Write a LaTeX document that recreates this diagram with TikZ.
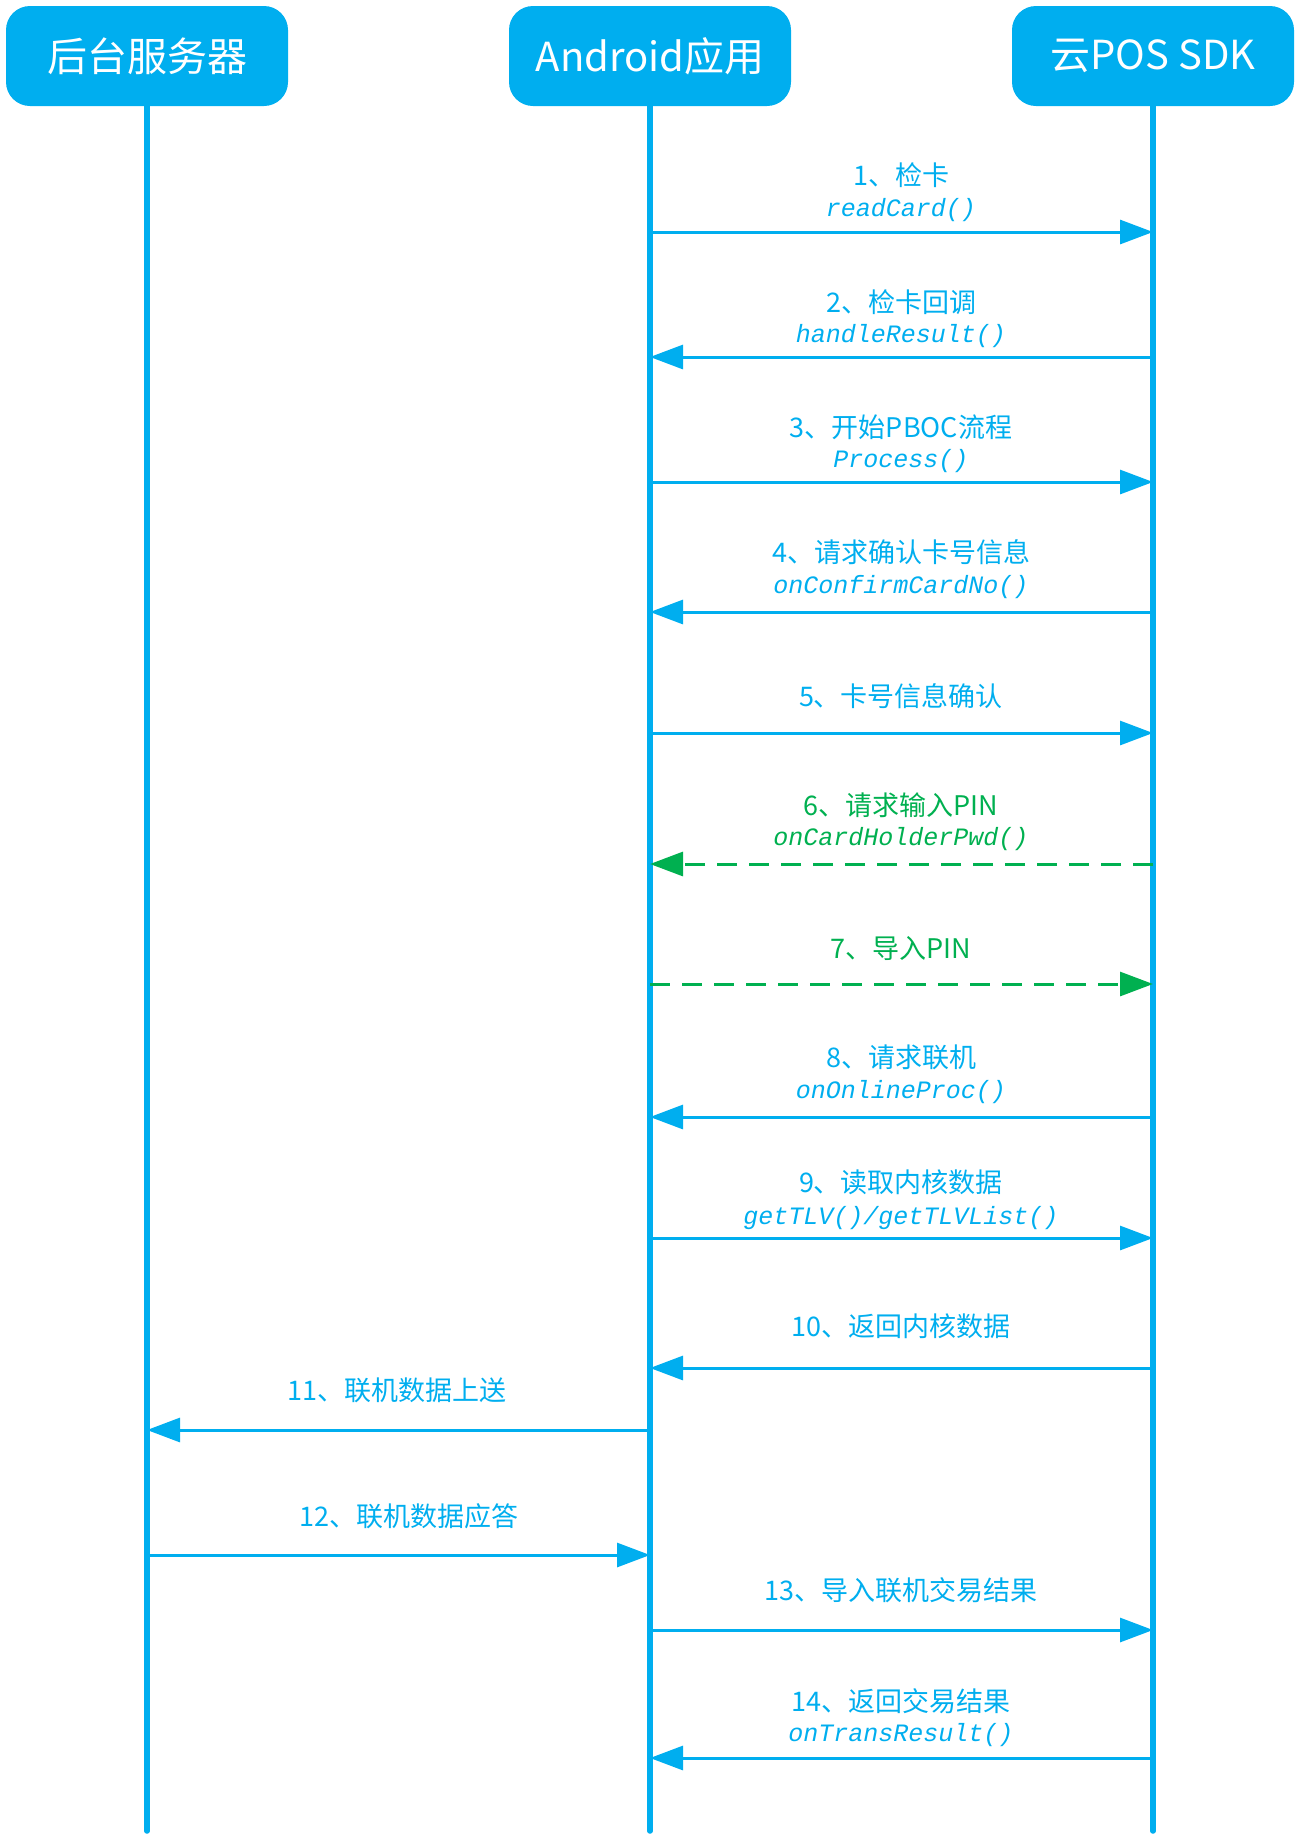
\documentclass[tikz,border=0pt]{standalone}
\usepackage{fontspec}
\setmainfont{Noto Sans CJK SC}
\newfontfamily\mth{Liberation Mono}
\usetikzlibrary{arrows.meta}
\definecolor{cy}{RGB}{0,174,239}
\definecolor{gr}{RGB}{0,176,80}
\begin{document}
\begin{tikzpicture}[x=0.5pt,y=-0.5pt,
 actor/.style={fill=cy, rounded corners=12pt, minimum width=141pt, minimum height=50pt, text=white, font=\fontsize{20}{24}\selectfont, inner sep=0},
 life/.style={draw=cy, line width=2.75pt, line cap=round},
 msg/.style={draw=cy, line width=1.5pt, -{Triangle[length=16.5pt,width=12pt,fill=cy]}},
 dmsg/.style={draw=gr, line width=1.5pt, dash pattern=on 10pt off 6pt, -{Triangle[length=16.5pt,width=12pt,fill=gr]}},
 lab/.style={text=cy, font=\fontsize{13.5}{16}\selectfont, inner sep=0},
 glab/.style={lab, text=gr},
 fn/.style={text=cy, font=\mth\itshape\fontsize{12.5}{14}\selectfont, inner sep=0},
 gfn/.style={fn, text=gr},
]
\useasboundingbox (0,0) rectangle (1300,1843);
% actors
\node[actor] (srv) at (147,56) {\raisebox{1.5pt}{后台服务器}};
\node[actor] (app) at (650,56) {\raisebox{1.5pt}{Android应用}};
\node[actor] (sdk) at (1153,56) {\raisebox{1.5pt}{云POS SDK}};
\coordinate (srvE) at (147,1831);
\coordinate (appE) at (650,1831);
\coordinate (sdkE) at (1153,1831);
\draw[life] (srv.south) -- (srvE);
\draw[life] (app.south) -- (appE);
\draw[life] (sdk.south) -- (sdkE);
% 1
\node[lab] (l1a) at (901,175) {1、检卡};
\node[fn]  (l1b) at (901,210) {readCard()};
\draw[msg] (app |- 0,232) -- (sdk |- 0,232);
% 2
\node[lab] (l2a) at (901,302) {2、检卡回调};
\node[fn]  (l2b) at (901,336) {handleResult()};
\draw[msg] (sdk |- 0,357) -- (app |- 0,357);
% 3
\node[lab] (l3a) at (901,427) {3、开始PBOC流程};
\node[fn]  (l3b) at (901,461) {Process()};
\draw[msg] (app |- 0,482) -- (sdk |- 0,482);
% 4
\node[lab] (l4a) at (901,552) {4、请求确认卡号信息};
\node[fn]  (l4b) at (901,587) {onConfirmCardNo()};
\draw[msg] (sdk |- 0,612) -- (app |- 0,612);
% 5
\node[lab] (l5a) at (901,696) {5、卡号信息确认};
\draw[msg] (app |- 0,733) -- (sdk |- 0,733);
% 6
\node[glab] (l6a) at (901,805) {6、请求输入PIN};
\node[gfn]  (l6b) at (901,839) {onCardHolderPwd()};
\draw[dmsg] (sdk |- 0,864) -- (app |- 0,864);
% 7
\node[glab] (l7a) at (901,948) {7、导入PIN};
\draw[dmsg] (app |- 0,984) -- (sdk |- 0,984);
% 8
\node[lab] (l8a) at (901,1057) {8、请求联机};
\node[fn]  (l8b) at (901,1092) {onOnlineProc()};
\draw[msg] (sdk |- 0,1117) -- (app |- 0,1117);
% 9
\node[lab] (l9a) at (901,1182) {9、读取内核数据};
\node[fn]  (l9b) at (901,1218) {getTLV()/getTLVList()};
\draw[msg] (app |- 0,1238) -- (sdk |- 0,1238);
% 10
\node[lab] (l10a) at (901,1326) {10、返回内核数据};
\draw[msg] (sdk |- 0,1368) -- (app |- 0,1368);
% 11
\node[lab] (l11a) at (397,1390) {11、联机数据上送};
\draw[msg] (app |- 0,1430) -- (srv |- 0,1430);
% 12
\node[lab] (l12a) at (409,1516) {12、联机数据应答};
\draw[msg] (srv |- 0,1555) -- (app |- 0,1555);
% 13
\node[lab] (l13a) at (901,1590) {13、导入联机交易结果};
\draw[msg] (app |- 0,1630) -- (sdk |- 0,1630);
% 14
\node[lab] (l14a) at (901,1701) {14、返回交易结果};
\node[fn]  (l14b) at (901,1735) {onTransResult()};
\draw[msg] (sdk |- 0,1758) -- (app |- 0,1758);
\end{tikzpicture}
\end{document}
